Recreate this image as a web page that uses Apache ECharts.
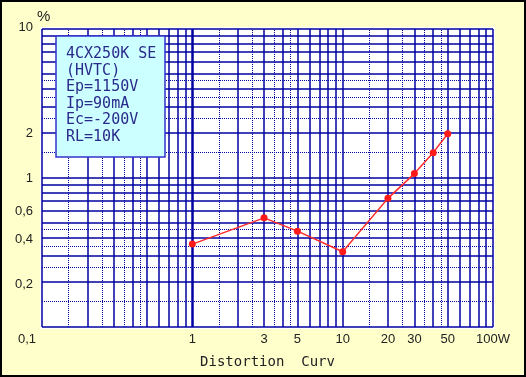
<!DOCTYPE html>
<html>
<head>
<meta charset="utf-8">
<script src="https://cdn.jsdelivr.net/npm/echarts@6/dist/echarts.min.js"></script>
<style>
  html, body { margin: 0; padding: 0; }
  #chart { width: 526px; height: 377px; }
</style>
</head>
<body>
<div id="chart"></div>
<script>
// measured points (output power W, distortion %)
const POWER_W = [1, 3, 5, 10, 20, 30, 40, 50]
const DISTORTION_PCT = [0.36, 0.54, 0.44, 0.32, 0.73, 1.07, 1.48, 1.98]

const X_TICK_VALUES = [0.1, 1, 3, 5, 10, 20, 30, 50, 100]
const X_TICK_LABELS = ['0,1', '1', '3', '5', '10', '20', '30', '50', '100W']
const Y_TICK_VALUES = [10, 2, 1, 0.6, 0.4, 0.2]
const Y_TICK_LABELS = ['10', '2', '1', '0,6', '0,4', '0,2']
const Y_UNIT = '%'

// log paper grid
const X_GRID_SOLID = [0.1, 0.2, 0.3, 0.4, 0.5, 0.6, 0.7, 0.8, 0.9, 2, 3, 4, 5, 6, 7, 8, 9, 10, 20, 30, 40, 50, 60, 70, 80, 90, 100]
const X_GRID_DOTTED = [0.15, 0.25, 0.35, 0.45, 1.5, 2.5, 3.5, 4.5, 15, 25, 35, 45]
const X_GRID_THICK = [1]
const Y_GRID_SOLID = [0.1, 0.2, 0.3, 0.4, 0.5, 0.6, 0.7, 0.8, 0.9, 1, 2, 3, 4, 5, 6, 7, 8, 9, 10]
const Y_GRID_DOTTED = [0.15, 0.25, 0.35, 0.45, 1.5, 2.5, 3.5, 4.5]

const SPEC_LINES = ['4CX250K SE', '(HVTC)', 'Ep=1150V', 'Ip=90mA', 'Ec=-200V', 'RL=10K']

const GRID_COLOR = '#0000a0'
const TEXT_COLOR = '#222'

const labelFor = (values, labels) => (v) => {
  let best = 0
  values.forEach((t, i) => {
    if (Math.abs(Math.log10(t / v)) < Math.abs(Math.log10(values[best] / v))) best = i
  })
  return labels[best]
}
const xLabel = labelFor(X_TICK_VALUES, X_TICK_LABELS)
const yLabel = labelFor(Y_TICK_VALUES, Y_TICK_LABELS)

const solidStyle = { color: GRID_COLOR, width: 1.5, type: 'solid' }
const dottedStyle = { color: GRID_COLOR, width: 1, type: [1, 1] }
const thickStyle = { color: GRID_COLOR, width: 2.5, type: 'solid' }

const gridLines = [
  ...X_GRID_SOLID.map(v => ({ xAxis: v, lineStyle: solidStyle })),
  ...X_GRID_DOTTED.map(v => ({ xAxis: v, lineStyle: dottedStyle })),
  ...X_GRID_THICK.map(v => ({ xAxis: v, lineStyle: thickStyle })),
  ...Y_GRID_SOLID.map(v => ({ yAxis: v, lineStyle: solidStyle })),
  ...Y_GRID_DOTTED.map(v => ({ yAxis: v, lineStyle: dottedStyle }))
]

const chart = echarts.init(document.getElementById('chart'))

const option = {
  animation: false,
  backgroundColor: '#ffffcc',
  graphic: [{
    type: 'rect',
    shape: { x: 1, y: 1, width: 524, height: 375 },
    style: { fill: 'none', stroke: '#000', lineWidth: 2 },
    z: 10,
    silent: true
  }, {
    // unit of the y axis, next to the top label
    type: 'text',
    left: 37,
    top: 9,
    style: {
      text: Y_UNIT,
      fill: TEXT_COLOR,
      font: '15px "Liberation Sans"'
    },
    silent: true
  }],
  title: {
    text: SPEC_LINES.join('\n'),
    left: 56,
    top: 36,
    padding: [10, 9, 12, 10],
    backgroundColor: '#ccffff',
    borderColor: '#3333cc',
    borderWidth: 1.5,
    textStyle: {
      fontFamily: 'DejaVu Sans Mono',
      fontSize: 15,
      fontWeight: 'normal',
      lineHeight: 16.5,
      color: '#2a2a8a'
    }
  },
  grid: {
    left: 42,
    right: 33,
    top: 29,
    bottom: 50,
    show: true,
    backgroundColor: '#fff',
    borderColor: '#fff',
    borderWidth: 4
  },
  xAxis: {
    type: 'log',
    logBase: 10,
    min: 0.1,
    max: 100,
    axisLine: { show: false },
    axisTick: { show: false },
    splitLine: { show: false },
    axisLabel: {
      customValues: X_TICK_VALUES,
      showMinLabel: true,
      showMaxLabel: true,
      margin: 6,
      color: TEXT_COLOR,
      fontFamily: 'Liberation Sans',
      fontSize: 13,
      formatter: (v) => {
        const s = xLabel(v)
        return v < 0.5 ? '{c|' + s + '}' : s
      },
      rich: { c: { padding: [0, 30, 0, 0] } }
    },
    name: 'Distortion  Curv',
    nameLocation: 'middle',
    nameGap: 28,
    nameTextStyle: {
      fontFamily: 'DejaVu Sans Mono',
      fontSize: 14,
      color: TEXT_COLOR
    }
  },
  yAxis: {
    type: 'log',
    logBase: 10,
    min: 0.1,
    max: 10,
    axisLine: { show: false },
    axisTick: { show: false },
    splitLine: { show: false },
    axisLabel: {
      customValues: Y_TICK_VALUES,
      showMinLabel: true,
      showMaxLabel: true,
      margin: 9,
      color: TEXT_COLOR,
      fontFamily: 'Liberation Sans',
      fontSize: 13,
      formatter: (v) => {
        const s = yLabel(v)
        if (v > 5) return '{t|' + s + '}'
        if (v < 0.5) return '{d|' + s + '}'
        return s
      },
      rich: {
        t: { padding: [0, 0, 4, 0] },
        d: { padding: [5, 0, 0, 0] }
      }
    }
  },
  series: [{
    name: 'Distortion',
    type: 'line',
    data: POWER_W.map((p, i) => [p, DISTORTION_PCT[i]]),
    symbol: 'circle',
    symbolSize: 7,
    itemStyle: { color: '#ff1a1a' },
    lineStyle: { color: '#ff2a2a', width: 1.5 },
    z: 3,
    markLine: {
      silent: true,
      z: 1,
      symbol: ['none', 'none'],
      precision: 4,
      label: { show: false },
      emphasis: { disabled: true },
      data: gridLines
    }
  }]
}

chart.setOption(option)
</script>
</body>
</html>
